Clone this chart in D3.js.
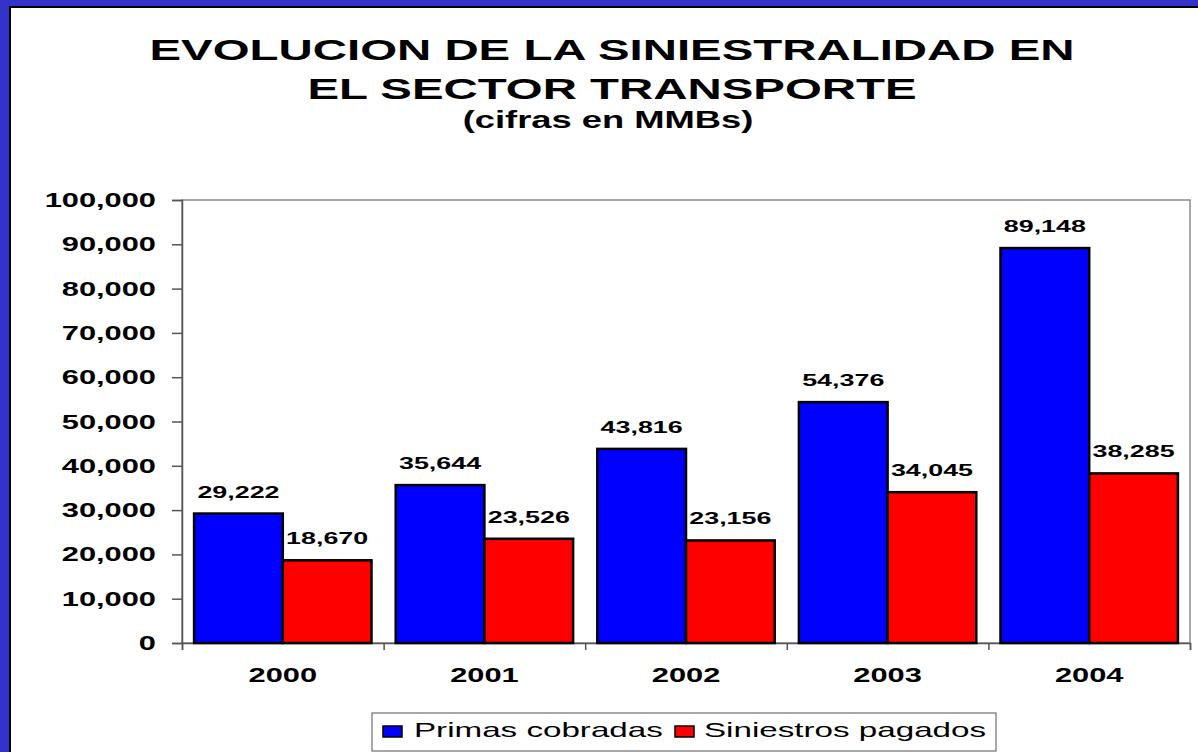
<!DOCTYPE html>
<html>
<head>
<meta charset="utf-8">
<script src="https://cdn.jsdelivr.net/npm/d3@7"></script>
<style>
  html, body { margin: 0; padding: 0; background: #ffffff; }
  svg { display: block; }
  text { font-family: "Liberation Sans", Arial, sans-serif; fill: #000; }
</style>
</head>
<body>
<svg id="chart" width="1198" height="752"></svg>
<script>
const titleLines = ["EVOLUCION DE LA SINIESTRALIDAD EN", "EL SECTOR TRANSPORTE"];
const subtitle = "(cifras en MMBs)";
const categories = ["2000", "2001", "2002", "2003", "2004"];
const seriesNames = ["Primas cobradas", "Siniestros pagados"];
const primas = [29222, 35644, 43816, 54376, 89148];
const siniestros = [18670, 23526, 23156, 34045, 38285];
const yTicks = [0, 10000, 20000, 30000, 40000, 50000, 60000, 70000, 80000, 90000, 100000];
const colors = ["#0000ff", "#ff0000"];

(function () {
const W = 1198, H = 752;
const K = 1.58; // horizontal stretch of the text glyphs
const svg = d3.select("#chart");

// slide background + frame
svg.append("rect").attr("x", 0).attr("y", 0).attr("width", W).attr("height", H).attr("fill", "#3333cc");
svg.append("rect").attr("x", 9).attr("y", 6).attr("width", W).attr("height", H).attr("fill", "#000");
svg.append("rect").attr("x", 11).attr("y", 8).attr("width", W).attr("height", H).attr("fill", "#fff");

function txt(x, y, s, size, weight, anchor) {
  return svg.append("text")
    .attr("transform", `translate(${x},${y}) scale(${K},1)`)
    .attr("text-anchor", anchor)
    .style("font-size", size + "px")
    .style("font-weight", weight)
    .text(s);
}

// titles
txt(612, 60, titleLines[0], 30, "bold", "middle");
txt(612, 99, titleLines[1], 30, "bold", "middle");
txt(608, 128, subtitle, 23, "bold", "middle");

// plot
const pL = 182, pR = 1190, pT = 200, pB = 643;
const x0 = d3.scaleBand().domain(categories).range([pL, pR]).paddingInner(0.12).paddingOuter(0.06);
const x1 = d3.scaleBand().domain(seriesNames).range([0, x0.bandwidth()]).padding(0);
const y = d3.scaleLinear().domain([0, 100000]).range([pB, pT]);
const xb = d3.scaleBand().domain(categories).range([pL, pR]).padding(0);

// plot frame
svg.append("rect").attr("x", pL).attr("y", pT).attr("width", pR - pL).attr("height", pB - pT)
  .attr("fill", "none").attr("stroke", "#8c8c8c").attr("stroke-width", 1.5);

// y axis
const yAxis = svg.append("g").attr("transform", `translate(${pL},0)`)
  .call(d3.axisLeft(y).tickValues(yTicks).tickSize(10).tickFormat(""));
yAxis.select(".domain").attr("stroke", "#555").attr("stroke-width", 1.5);
yAxis.selectAll(".tick line").attr("stroke", "#555").attr("stroke-width", 1.5);
yTicks.forEach(v => txt(156, y(v) + 7, d3.format(",")(v), 19.5, "bold", "end"));

// x axis (ticks at category boundaries)
const bounds = categories.map(c => xb(c)).concat([pR]);
const xAxis = svg.append("g").attr("transform", `translate(0,${pB})`)
  .call(d3.axisBottom(d3.scaleLinear().domain([pL, pR]).range([pL, pR]))
    .tickValues(bounds).tickSize(7).tickFormat(""));
xAxis.select(".domain").attr("stroke", "#555").attr("stroke-width", 1.5);
xAxis.selectAll(".tick line").attr("stroke", "#555").attr("stroke-width", 1.5);
categories.forEach(c => txt(xb(c) + xb.bandwidth() / 2, 682, c, 19.5, "bold", "middle"));

// bars
const data = categories.map((c, i) => ({ cat: c, vals: [primas[i], siniestros[i]] }));
const groups = svg.selectAll("g.cat").data(data).join("g").attr("class", "cat")
  .attr("transform", d => `translate(${x0(d.cat)},0)`);
groups.selectAll("rect").data(d => d.vals.map((v, j) => ({ v, j })))
  .join("rect")
  .attr("x", d => x1(seriesNames[d.j]))
  .attr("y", d => y(d.v))
  .attr("width", x1.bandwidth())
  .attr("height", d => pB - y(d.v))
  .attr("fill", d => colors[d.j])
  .attr("stroke", "#000").attr("stroke-width", 2.5);

// value labels
data.forEach(d => {
  d.vals.forEach((v, j) => {
    txt(x0(d.cat) + x1(seriesNames[j]) + x1.bandwidth() / 2, y(v) - 16, d3.format(",")(v), 17, "bold", "middle");
  });
});

// legend
svg.append("rect").attr("x", 372).attr("y", 713).attr("width", 624).attr("height", 38)
  .attr("fill", "#fff").attr("stroke", "#8c8c8c").attr("stroke-width", 1.5);
const legX = [383, 675];
const legTX = [414, 704];
seriesNames.forEach((s, j) => {
  svg.append("rect").attr("x", legX[j]).attr("y", 726).attr("width", 19).attr("height", 11)
    .attr("fill", colors[j]).attr("stroke", "#000").attr("stroke-width", 1.5);
  txt(legTX[j], 737, s, 21, "normal", "start");
});
})();
</script>
</body>
</html>
